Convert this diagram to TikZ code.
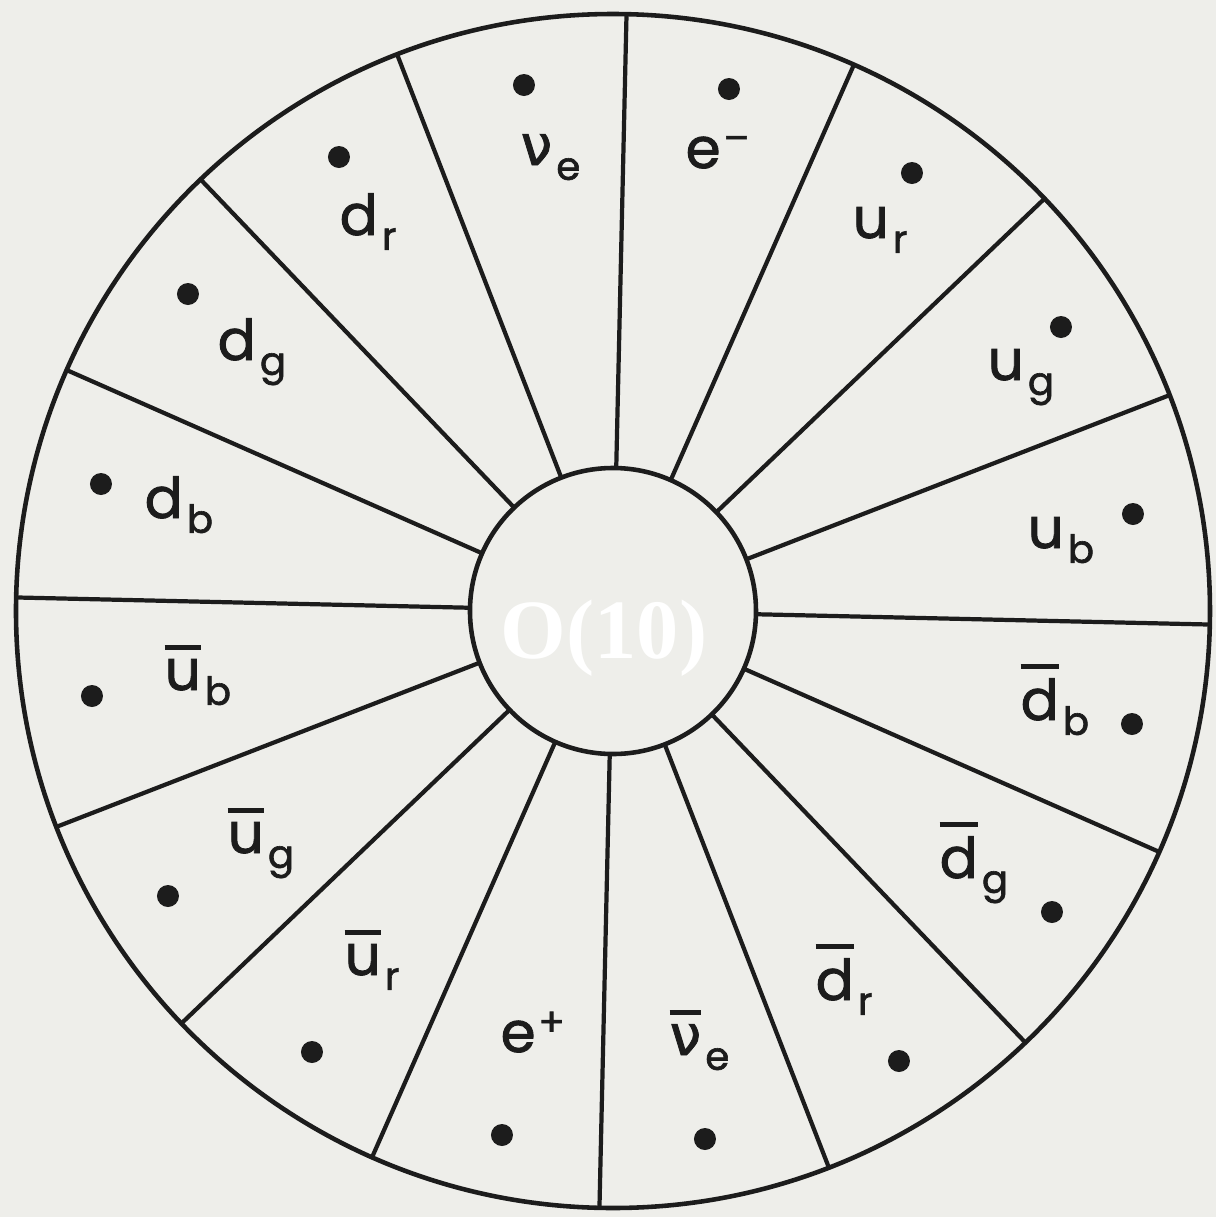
\documentclass[tikz,border=0pt]{standalone}
\usepackage{fontspec}
\newfontfamily\lblfont[FakeBold=1.6]{Poppins}
\newfontfamily\nufont[FakeBold=1.6]{DejaVu Sans}
\newfontfamily\grpfont{Liberation Serif}
\definecolor{paper}{HTML}{EEEEEA}
\definecolor{ink}{HTML}{1C1C1C}
\newcommand{\idxfont}{\fontsize{11}{12}\selectfont}
\newcommand{\dnidx}[1]{\kern1.2pt\raisebox{-4.2pt}{\idxfont #1}}
\newcommand{\upidx}[1]{\kern0.8pt\raisebox{4.6pt}{\idxfont #1}}
\newcommand{\barred}[1]{\vbox{\hrule height 1.5pt\kern2.6pt\hbox{#1}}}

\begin{document}
\begin{tikzpicture}[
  x=0.01cm, y=0.01cm,
  wheel/.style={draw=ink, line width=1.3pt},
  spoke/.style={draw=ink, line width=1.2pt},
  pdot/.style={fill=ink},
  lbl/.style={anchor=base west, inner sep=0pt, text=ink,
              font=\lblfont\fontsize{16}{18}\selectfont},
  grp/.style={anchor=base, inner sep=0pt, text=white,
              font=\grpfont\bfseries\fontsize{24}{24}\selectfont},
]
\fill[paper] (-613,-606) rectangle (603,611);

% rings and spokes
\draw[wheel] (0,0) circle[radius=597];
\draw[wheel] (0,0) circle[radius=143];
\foreach \k in {0,...,15}
  \draw[spoke] ({-1.3+22.5*\k}:143) -- ({-1.3+22.5*\k}:597);

\node[grp] (grp) at (-9,-47) {O(10)};

% states of the 16
\foreach \x/\y in {520/97, 448/284, 299/438, 116/522, -89/526, -274/454,
                   -425/317, -512/127, -521/-85, -445/-285, -301/-441,
                   -111/-524, 92/-528, 286/-450, 439/-301, 519/-113}
  \fill[pdot] (\x,\y) circle[radius=11];

\foreach \n/\x/\y/\t in {ub/414/63/{u\dnidx{b}},
                         ug/374/231/{u\dnidx{g}},
                         ur/239/373/{u\dnidx{r}},
                         em/72/443/{e\upidx{–}},
                         nu/-93/446/{{\nufont ν}\dnidx{e}},
                         dr/-274/376/{d\dnidx{r}},
                         dg/-396/251/{d\dnidx{g}},
                         db/-469/93/{d\dnidx{b}},
                         aub/-449/-79/{\barred{u}\dnidx{b}},
                         aug/-386/-242/{\barred{u}\dnidx{g}},
                         aur/-269/-364/{\barred{u}\dnidx{r}},
                         ep/-113/-441/{e\upidx{+}},
                         anu/56/-444/{\barred{\nufont ν}\dnidx{e}},
                         adr/202/-389/{\barred{d}\dnidx{r}},
                         adg/326/-267/{\barred{d}\dnidx{g}},
                         adb/407/-109/{\barred{d}\dnidx{b}}}
  \node[lbl] (\n) at (\x,\y) {\t};
\end{tikzpicture}
\end{document}
